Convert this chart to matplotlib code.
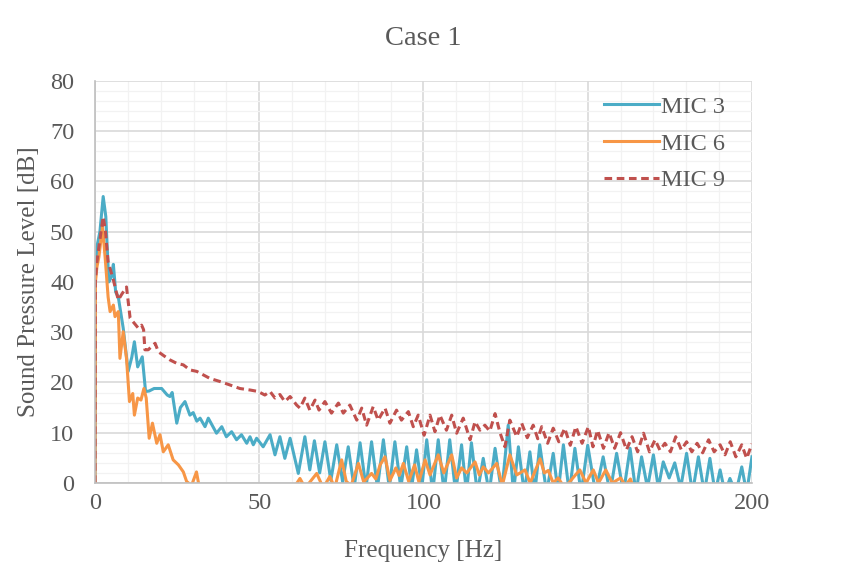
import numpy as np
import matplotlib
matplotlib.use('Agg')
import matplotlib.pyplot as plt
from matplotlib.ticker import MultipleLocator

plt.rcParams['font.family'] = ['Liberation Serif', 'DejaVu Serif']
plt.rcParams['font.size'] = 17.5

txt = '#595959'

# MIC 3 (peaks / troughs)
f3 = [0, 0.15, 0.6, 1.5, 2.5, 3.3, 4.2, 5.0, 5.6, 6.3, 7.1, 8.6, 10.1, 11.2, 12.0, 13.0, 14.4, 15.4,
      16.5, 18.0, 20.3, 22.0, 22.8, 23.5, 24.9, 26.0, 27.4, 28.9, 29.9, 31.0, 32.0, 33.5, 34.5, 37.0,
      38.6, 40.0, 41.6, 43.1, 44.6, 46.2, 47.2, 48.2, 49.2, 51.2, 53.3, 54.8, 56.3, 57.8, 59.4, 61.9,
      63.9, 65.4, 66.8, 68.4, 70.0, 71.8, 73.6, 75.4, 77.1, 78.9, 80.7, 82.5, 84.2, 86.0, 87.8, 89.6,
      91.3, 93.1, 94.9, 96.4, 97.9, 99.5, 101.0, 102.8, 104.5, 106.3, 108.0, 109.8, 111.6, 113.1,
      114.6, 116.4, 118.2, 120.0, 121.8, 123.8, 125.8, 127.4, 128.9, 130.7, 132.4, 133.9, 135.4,
      137.5, 139.5, 141.0, 142.6, 144.4, 146.1, 148.0, 150.0, 152.4, 154.7, 156.8, 158.8, 160.9,
      162.9, 164.7, 166.4, 168.2, 170.0, 171.5, 173.0, 174.8, 176.5, 178.3, 180.1, 181.9, 183.7,
      185.5, 187.2, 188.8, 190.3, 191.8, 193.3, 195.1, 196.9, 198.4, 200.0]
v3 = [0, 42, 47, 50, 57, 53, 40, 41, 43.5, 38, 37, 30.8, 22.2, 25, 28.1, 23.1, 25.1, 18.2,
      18.3, 18.8, 18.8, 17.5, 17.2, 18, 11.9, 15, 16.2, 13.5, 14, 12.3, 12.9, 11.2, 12.9, 9.9,
      11.2, 9.2, 10.2, 8.6, 9.6, 7.9, 9.2, 7.6, 8.9, 7.2, 9.6, 5.6, 9.2, 4.9, 8.9, 1.9,
      9.2, 2.6, 8.4, 2.0, 8.2, 0.5, 7.6, 0.2, 7.2, -1, 8.0, -1, 8.2, -1, 8.6, -1,
      8.2, -1, 7.2, -1, 6.6, -1, 8.6, -2, 8.6, -2, 8.6, -2, 7.6, -2,
      8.0, -2, 4.9, -2, 6.9, -2, 11.5, -2, 7.2, -2, 6.2, -2, 7.6,
      -2, 5.9, -2, 7.6, -2, 6.9, -2, 7.5, -2, 5.2, -2, 5.9, -2,
      6.9, -2, 5.2, -1, 5.6, -1, 4.2, 1.0, 4.0, -1, 5.9, -2, 5.2,
      -2, 4.9, -2, 2.6, -2, 0.9, -2, 3.2, -2, 5.2]

# MIC 6
f6 = [0, 0.15, 0.6, 1.2, 2.3, 3.2, 4.0, 4.6, 5.6, 6.1, 7.1, 7.6, 8.6, 9.6, 10.5, 11.5, 12.0, 13.0,
      14.0, 14.9, 15.6, 16.5, 17.5, 18.8, 19.8, 20.8, 22.3, 23.8, 25.4, 26.9, 27.9, 29.4, 30.9,
      31.8, 33.0, 45.0, 58.0, 60.5, 62.4, 64.0, 67.5, 69.5, 71.5, 73.0, 75.1, 76.5, 78.0, 80.2, 81.8,
      84.2, 85.5, 86.8, 88.3, 89.8, 91.6, 92.6, 93.9, 95.5, 97.3, 98.6, 100.5, 102.0, 104.5, 106.2,
      108.6, 110.1, 111.6, 113.2, 115.7, 117.0, 118.2, 119.8, 122.3, 124.0, 126.3, 128.4, 130.9,
      132.5, 135.5, 136.8, 138.0, 139.5, 141.0, 143.0, 145.5, 147.6, 149.5, 151.7, 153.3, 155.5,
      157.5, 160.0, 161.5, 163.0, 164.5, 200.0]
v6 = [0, 40, 43, 45, 51, 44, 37, 34.1, 35.4, 33.1, 34.1, 24.8, 30.1, 24.8, 16.2, 17.8, 13.5, 16.9,
      16.5, 18.8, 16.9, 8.9, 11.9, 7.9, 9.6, 6.2, 7.6, 4.6, 3.6, 2.2, 0.3, -0.5, 2.2,
      -1, -3, -5, -3, -1, 0.9, -1, 1.9, -1, 1.3, -1, 4.6, 0.3, -0.5, 3.9, 0.2,
      1.9, 0.8, 3.6, 5.2, 0.5, 3.0, 1.5, 3.9, 0.3, 3.6, 0.2, 4.6, 1.6, 5.6, 2.0,
      5.6, 1.0, 3.0, 2.0, 4.2, 1.6, 3.2, 2.0, 3.9, -0.5, 5.6, 1.6, 2.6,
      0, 4.8, 2.0, 2.5, 0, 1.0, -1, 1.0, 2.6, 0, 2.6, 0, 2.6,
      0, 1.0, -0.5, 0.8, -2, -4]

# MIC 9
f9 = [0, 0.1, 0.6, 1.2, 2.5, 3.2, 4.0, 5.6, 7.1, 8.1, 9.6, 10.7, 11.2, 13.2, 14.2, 14.8, 15.2,
      16.2, 18.3, 19.3, 21.0, 22.8, 24.9, 26.9, 28.9, 31.0, 33.0, 35.0, 38.0, 41.1, 44.1, 47.2,
      49.7, 51.7, 53.3, 54.8, 56.3, 57.8, 59.4, 61.4, 62.4, 63.9, 65.4, 67.0, 68.2, 70.0, 72.0,
      74.1, 75.6, 77.6, 79.7, 81.2, 82.7, 84.7, 86.2, 88.3, 89.8, 91.8, 93.3, 95.4, 96.9, 98.4,
      100.2, 102.0, 103.5, 105.0, 107.0, 108.6, 110.1, 112.1, 114.2, 115.7, 117.2, 118.7, 120.2,
      121.8, 123.3, 124.8, 126.3, 128.4, 129.9, 131.6, 133.4, 134.8, 136.0, 137.8, 139.5, 141.2,
      143.0, 144.7, 146.4, 148.3, 150.2, 151.6, 153.0, 154.8, 156.5, 158.2, 160.0, 161.8, 163.5,
      165.2, 167.0, 168.8, 170.5, 172.0, 173.5, 175.2, 176.8, 178.5, 180.1, 181.7, 183.3, 185.0,
      186.8, 188.5, 190.3, 191.8, 193.4, 195.1, 196.9, 198.4, 200.0]
v9 = [0, 40, 44, 47, 53, 50, 44, 40.4, 36.4, 37.5, 39, 32.8, 32.4, 30.8, 31.4, 30.5, 26.5,
      26.5, 27.8, 26.1, 25.3, 24.5, 23.8, 23.5, 22.5, 22.2, 21.5, 20.8, 20.2, 19.5, 18.8, 18.5,
      18.2, 17.5, 18.2, 16.9, 17.6, 16.2, 17.2, 15.5, 14.9, 16.9, 14.5, 16.5, 14.5, 16.2, 13.9,
      15.9, 13.9, 15.5, 12.5, 14.9, 11.5, 15.2, 12.5, 14.9, 11.9, 14.5, 12.5, 14.2, 11.2, 13.5,
      9.5, 13.5, 10.2, 13.5, 10.5, 13.5, 9.9, 12.9, 8.6, 12.2, 10.5, 11.5, 10.3,
      13.8, 10.0, 7.2, 12.5, 9.2, 11.9, 9.0, 11.5, 8.8, 11.2, 7.9, 10.9, 8.2,
      10.9, 7.5, 11.2, 7.9, 11.2, 7.2, 10.5, 6.9, 10.0, 6.9, 10.0, 6.6, 9.2,
      6.2, 9.9, 6.2, 8.6, 6.5, 7.9, 6.2, 9.2, 6.6, 8.2, 6.2, 7.9, 6.0,
      8.6, 6.2, 7.6, 5.6, 8.2, 5.2, 7.6, 4.9, 7.8]

fig = plt.figure(figsize=(8.51, 5.76), dpi=100)
ax = fig.add_axes([0.1116, 0.1615, 0.772, 0.698])

ax.plot(f3, v3, color='#4BACC6', lw=2.2, label='MIC 3')
ax.plot(f6, v6, color='#F79646', lw=2.2, label='MIC 6')
ax.plot(f9, v9, color='#C0504D', lw=2.2, ls=(0, (2.5, 1.5)), label='MIC 9')

ax.set_xlim(0, 200)
ax.set_ylim(0, 80)
ax.xaxis.set_major_locator(MultipleLocator(50))
ax.xaxis.set_minor_locator(MultipleLocator(10))
ax.yaxis.set_major_locator(MultipleLocator(10))
ax.yaxis.set_minor_locator(MultipleLocator(2))
ax.grid(which='major', color='#D9D9D9', lw=1.2)
ax.grid(which='minor', color='#F2F2F2', lw=0.9)
ax.set_axisbelow(True)
for s in ['top', 'right']:
    ax.spines[s].set_visible(False)
for s in ['left', 'bottom']:
    ax.spines[s].set_color('#BFBFBF')
    ax.spines[s].set_linewidth(1.2)
ax.tick_params(which='both', length=0, colors=txt, labelsize=17.5)
ax.tick_params(axis='x', pad=7)
ax.tick_params(axis='y', pad=15)

ax.set_xlabel('Frequency [Hz]', color=txt, fontsize=18, labelpad=19)
ax.set_ylabel('Sound Pressure Level [dB]', color=txt, fontsize=18, labelpad=7)
ax.set_title('Case 1', color=txt, fontsize=20.5, pad=26)

leg = ax.legend(loc='upper right', frameon=False, fontsize=17.5, handlelength=2.25,
                handletextpad=0.1, labelspacing=0.6, borderpad=0, borderaxespad=0,
                bbox_to_anchor=((725 - 95) / 657, 1 - (96 - 81) / 402))
for t in leg.get_texts():
    t.set_color(txt)

fig.savefig('out.png', dpi=100)
